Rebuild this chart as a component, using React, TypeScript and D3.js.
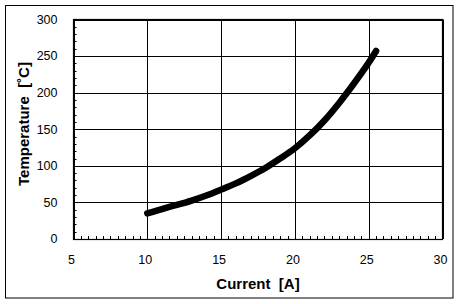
import React from "react";
import * as d3 from "d3";

const currentA = [10, 11, 12, 13, 14, 15, 16, 17, 18, 19, 20, 21, 22, 23, 24, 25, 25.5];
const temperatureC = [35, 41, 46.5, 52.5, 59.5, 67.5, 76, 86, 97, 110, 124, 141.5, 162, 186, 212.5, 241, 257];
const xTicks = [5, 10, 15, 20, 25, 30];
const yTicks = [0, 50, 100, 150, 200, 250, 300];

const W = 460;
const H = 304;
const plot = { left: 73.5, top: 19.5, right: 442.5, bottom: 239 };

export default function App() {
  const x = d3.scaleLinear().domain([5, 30]).range([plot.left, plot.right]);
  const y = d3.scaleLinear().domain([0, 300]).range([plot.bottom, plot.top]);
  const pts = currentA.map((c, i) => [c, temperatureC[i]] as [number, number]);
  const line = d3
    .line<[number, number]>()
    .x((d) => x(d[0]))
    .y((d) => y(d[1]))
    .curve(d3.curveCatmullRom.alpha(0.5));
  const xMinor = d3.range(5, 30.01, 0.5);
  const yMinor = d3.range(0, 300.01, 10);
  const font = "'Liberation Sans', Arial, sans-serif";
  return (
    <svg
      width={W}
      height={H}
      style={{ position: "absolute", left: 0, top: 0, background: "#fff" }}
    >
      <rect x={5.5} y={5.5} width={447.5} height={292.5} fill="#fff" stroke="#000" strokeWidth={1} />
      {yTicks.map((t) => (
        <line key={"gy" + t} x1={plot.left} x2={plot.right} y1={Math.round(y(t)) + 0.5} y2={Math.round(y(t)) + 0.5} stroke="#000" strokeWidth={1} />
      ))}
      {xTicks.map((t) => (
        <line key={"gx" + t} y1={plot.top} y2={plot.bottom} x1={Math.round(x(t)) + 0.5} x2={Math.round(x(t)) + 0.5} stroke="#000" strokeWidth={1} />
      ))}
      {xMinor.map((t) => (
        <line key={"mx" + t} x1={Math.round(x(t)) + 0.5} x2={Math.round(x(t)) + 0.5} y1={plot.bottom} y2={plot.bottom - 3} stroke="#000" strokeWidth={1} />
      ))}
      {yMinor.map((t) => (
        <line key={"my" + t} y1={Math.round(y(t)) + 0.5} y2={Math.round(y(t)) + 0.5} x1={plot.left} x2={plot.left + 3} stroke="#000" strokeWidth={1} />
      ))}
      <rect x={plot.left} y={plot.top} width={plot.right - plot.left} height={plot.bottom - plot.top + 0.5} fill="none" stroke="#000" strokeWidth={1.2} />
      <path d={line(pts) || ""} fill="none" stroke="#000" strokeWidth={6.5} strokeLinecap="round" strokeLinejoin="round" />
      {yTicks.map((t) => (
        <text key={"ly" + t} x={57.5} y={y(t)} dy="0.35em" textAnchor="end" fontFamily={font} fontSize={12.5} fill="#000">
          {t}
        </text>
      ))}
      {xTicks.map((t) => (
        <text key={"lx" + t} x={x(t) - 2} y={264} textAnchor="middle" fontFamily={font} fontSize={12.5} fill="#000">
          {t}
        </text>
      ))}
      <text x={258} y={289} textAnchor="middle" fontFamily={font} fontSize={15} fontWeight="bold" fill="#000" style={{ whiteSpace: "pre" }}>
        {"Current  [A]"}
      </text>
      <text
        transform={`translate(29, 124) rotate(-90)`}
        textAnchor="middle"
        fontFamily={font}
        fontSize={15}
        fontWeight="bold"
        fill="#000"
        style={{ whiteSpace: "pre" }}
      >
        {"Temperature  [˚C]"}
      </text>
    </svg>
  );
}
